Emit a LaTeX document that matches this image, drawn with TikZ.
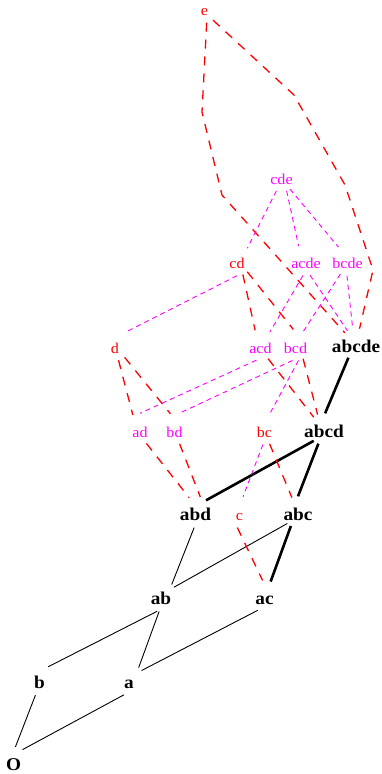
\documentclass[tikz,border=0pt]{standalone}
\usepackage{fontspec}
\setmainfont{Liberation Serif}[FakeStretch=1.07]
\definecolor{lred}{RGB}{255,0,0}
\definecolor{lmag}{RGB}{255,0,255}
\begin{document}
\begin{tikzpicture}[x=1pt,y=-1pt,
  hub/.style={circle,minimum size=31pt,inner sep=0pt,draw=none},
  lblred/.style={text=lred,font=\fontsize{15}{17}\selectfont,inner sep=0pt},
  lblmag/.style={text=lmag,font=\fontsize{15}{17}\selectfont,inner sep=0pt},
  lblblk/.style={text=black,font=\fontsize{18}{20}\selectfont\bfseries,inner sep=0pt},
  thinedge/.style={draw=black,line width=0.9pt},
  thickedge/.style={draw=black,line width=2.6pt},
  rededge/.style={draw=lred,line width=1.3pt,dash pattern=on 9pt off 8pt},
  magedge/.style={draw=lmag,line width=0.9pt,dash pattern=on 5pt off 4pt}]
\useasboundingbox (0,0) rectangle (381,774);

% a lattice element: invisible hub for connectors, label set on its baseline
\newcommand{\latnode}[4]{%
  \node[hub] (#1) at (#2) {};
  \node[#3,anchor=base] (#1-txt) at ([yshift=-8pt]#1.center) {#4};}

\latnode{e}{204.5,7}{lblred}{e}
\latnode{cde}{281.5,176}{lblmag}{cde}
\latnode{cd}{237,260}{lblred}{cd}
\latnode{acde}{306,260}{lblmag}{acde}
\latnode{bcde}{347.5,260}{lblmag}{bcde}
\latnode{d}{115,345}{lblred}{d}
\latnode{acd}{260.5,345}{lblmag}{acd}
\latnode{bcd}{295.5,345}{lblmag}{bcd}
\latnode{abcde}{356,344}{lblblk}{abcde}
\latnode{ad}{140,429}{lblmag}{ad}
\latnode{bd}{174.5,429}{lblmag}{bd}
\latnode{bc}{264.5,429}{lblred}{bc}
\latnode{abcd}{324,429}{lblblk}{abcd}
\latnode{abd}{195.5,512}{lblblk}{abd}
\latnode{c}{239.5,512}{lblred}{c}
\latnode{abc}{298,512}{lblblk}{abc}
\latnode{ab}{161,596}{lblblk}{ab}
\latnode{ac}{264.5,596}{lblblk}{ac}
\latnode{b}{39.5,680}{lblblk}{b}
\latnode{a}{129,680}{lblblk}{a}
\latnode{O}{13.5,762.5}{lblblk}{O}

% bends of the two polylines from e
\coordinate (el1) at (202,112);
\coordinate (el2) at (222,195);
\coordinate (er1) at (294,95);
\coordinate (er2) at (345,185);
\coordinate (er3) at (373,270);

% thin black edges
\draw[thinedge] (O.83) -- (b.255);
\draw[thinedge] (O.55) -- (a.251);
\draw[thinedge] (b.57) -- (ab.256);
\draw[thinedge] (a.52) -- (ab.263);
\draw[thinedge] (a.37) -- (ac.245);
\draw[thinedge] (ab.47) -- (abd.265);
\draw[thinedge] (ab.34) -- (abc.227);

% thick black chain
\draw[thickedge] (ac.67) -- (abc.243);
\draw[thickedge] (abc.90) -- (abcd.249);
\draw[thickedge] (abd.48) -- (abcd.229);
\draw[thickedge] (abcd.86) -- (abcde.241);

% red dashed edges
\draw[rededge] (c.262) -- (ac.97);
\draw[rededge] (bc.289) -- (abc.113);
\draw[rededge] (ad.294) -- (abd.114);
\draw[rededge] (bd.289) -- (abd.72);
\draw[rededge] (d.283) -- (ad.117);
\draw[rededge] (d.308) -- (bd.105);
\draw[rededge] (acd.299) -- (abcd.131);
\draw[rededge] (bcd.299) -- (abcd.114);
\draw[rededge] (cd.292) -- (acd.110);
\draw[rededge] (cd.311) -- (bcd.98);
\draw[rededge] (e.278) -- (el1) -- (el2) -- (abcde.135);
\draw[rededge] (e.303) -- (er1) -- (er2) -- (er3) -- (abcde.77);

% magenta dashed edges
\draw[magedge] (cde.251) -- (cd.49);
\draw[magedge] (cde.289) -- (acde.118);
\draw[magedge] (cde.303) -- (bcde.125);
\draw[magedge] (cd.270) -- (d.52);
\draw[magedge] (acde.259) -- (acd.54);
\draw[magedge] (acde.285) -- (abcde.123);
\draw[magedge] (bcde.243) -- (bcd.60);
\draw[magedge] (bcde.268) -- (abcde.102);
\draw[magedge] (acd.255) -- (ad.90);
\draw[magedge] (bcd.259) -- (bd.76);
\draw[magedge] (bcd.281) -- (bc.71);
\draw[magedge] (bc.264) -- (c.77);
\end{tikzpicture}
\end{document}
